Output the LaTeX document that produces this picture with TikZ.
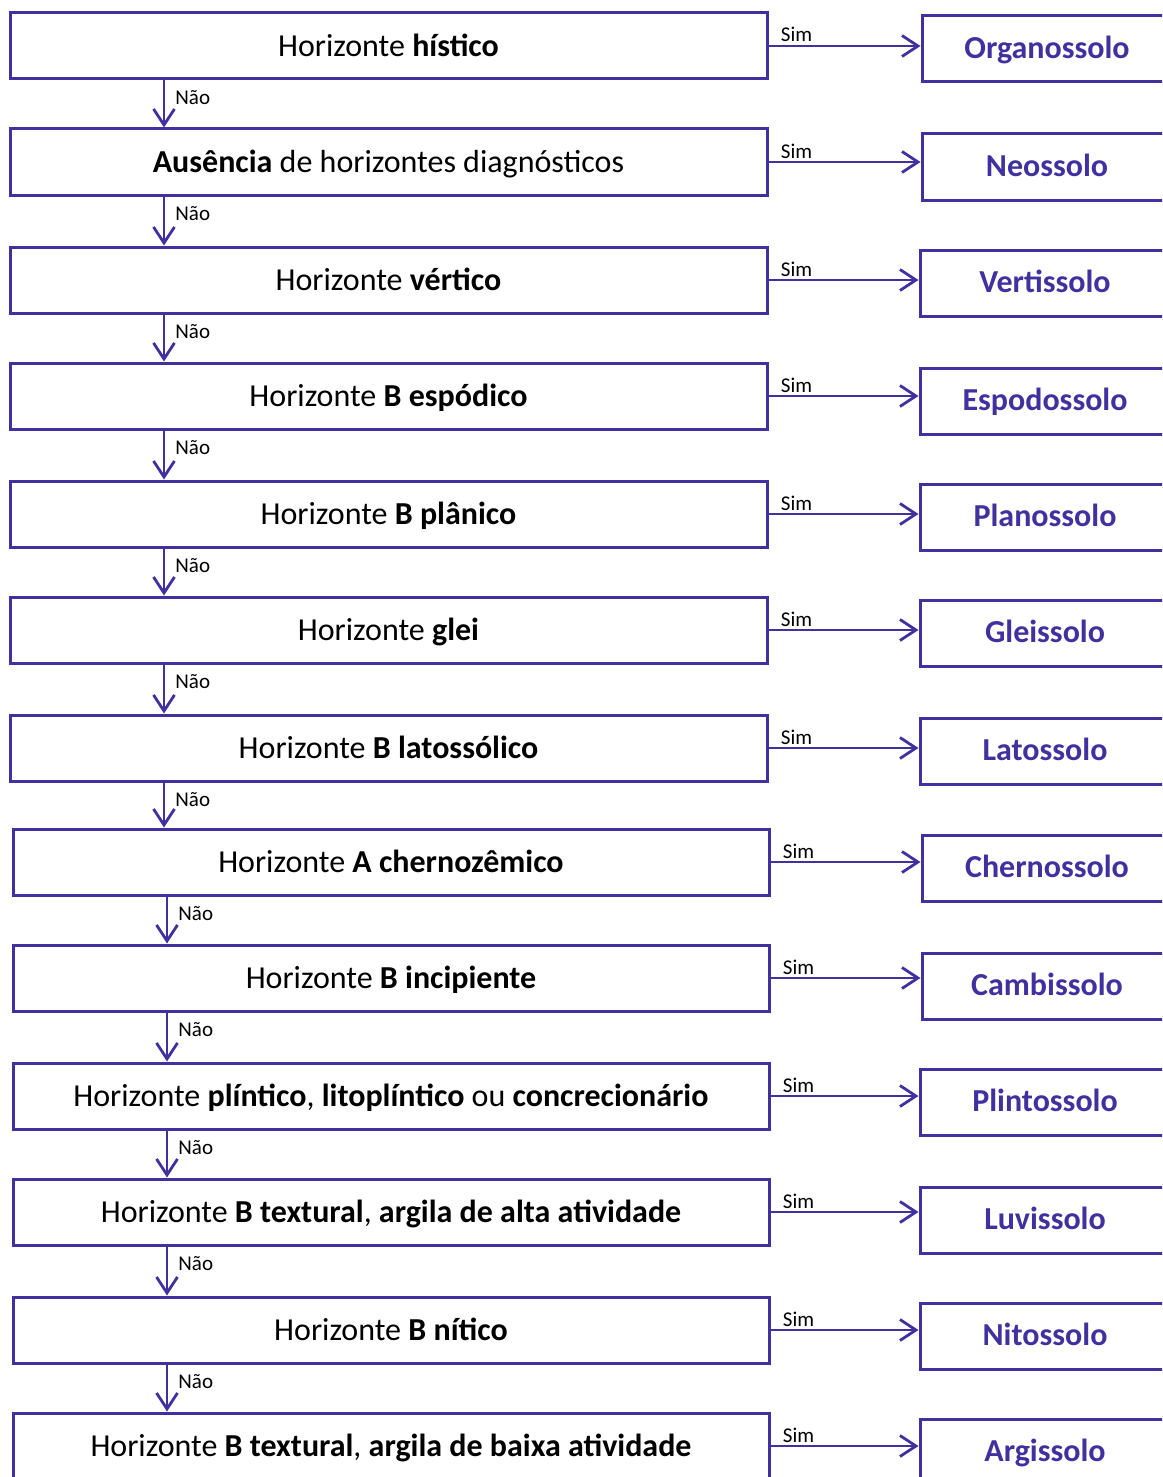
\documentclass[tikz,border=0pt]{standalone}
\usepackage{fontspec}
\setmainfont{Carlito}
\usetikzlibrary{arrows.meta}
\definecolor{pc}{RGB}{64,48,160}
\begin{document}
\begin{tikzpicture}[x=1pt,y=-1pt,
 lbox/.style={draw=pc, line width=3pt, minimum height=66pt, inner sep=0pt, text height=20.5pt, text depth=0pt, font=\fontsize{32}{37}\selectfont},
 lboxa/.style={lbox, minimum width=757pt},
 lboxb/.style={lbox, minimum width=756pt},
 rbox/.style={draw=pc, line width=3pt, minimum width=250pt, minimum height=66pt, inner sep=0pt, text height=20.5pt, text depth=1pt, font=\fontsize{32}{37}\selectfont\bfseries, text=pc},
 arr/.style={draw=pc, line width=2.8pt, -{Straight Barb[length=16pt,width=21pt]}},
 simlab/.style={font=\fontsize{21}{25}\selectfont, anchor=base west, inner sep=0pt, pos=0, xshift=11pt, yshift=4pt},
 naolab/.style={font=\fontsize{21}{25}\selectfont, anchor=base west, inner sep=0pt, pos=0, xshift=10pt, yshift=-24pt}]
\useasboundingbox (0,0) rectangle (1162,1477);
\clip (0,0) rectangle (1162,1477);
% left boxes
\node[lboxa] (L1) at (388.5,46) {Horizonte \textbf{hístico}};
\node[lboxa] (L2) at (388.5,162) {\textbf{Ausência} de horizontes diagnósticos};
\node[lboxa] (L3) at (388.5,280) {Horizonte \textbf{vértico}};
\node[lboxa] (L4) at (388.5,396) {Horizonte \textbf{B espódico}};
\node[lboxa] (L5) at (388.5,514) {Horizonte \textbf{B plânico}};
\node[lboxa] (L6) at (388.5,630) {Horizonte \textbf{glei}};
\node[lboxa] (L7) at (388.5,748) {Horizonte \textbf{B latossólico}};
\node[lboxb] (L8) at (391,862) {Horizonte \textbf{A chernozêmico}};
\node[lboxb] (L9) at (391,978) {Horizonte \textbf{B incipiente}};
\node[lboxb] (L10) at (391,1096) {Horizonte \textbf{plíntico}, \textbf{litoplíntico} ou \textbf{concrecionário}};
\node[lboxb] (L11) at (391,1212) {Horizonte \textbf{B textural}, \textbf{argila de alta atividade}};
\node[lboxb] (L12) at (391,1330) {Horizonte \textbf{B nítico}};
\node[lboxb] (L13) at (391,1446) {Horizonte \textbf{B textural}, \textbf{argila de baixa atividade}};
% right boxes
\node[rbox] (R1) at (1047,49) {Organossolo};
\node[rbox] (R2) at (1047,167) {Neossolo};
\node[rbox] (R3) at (1045,283) {Vertissolo};
\node[rbox] (R4) at (1045,401) {Espodossolo};
\node[rbox] (R5) at (1045,517) {Planossolo};
\node[rbox] (R6) at (1045,633) {Gleissolo};
\node[rbox] (R7) at (1045,751) {Latossolo};
\node[rbox] (R8) at (1047,868) {Chernossolo};
\node[rbox] (R9) at (1047,986) {Cambissolo};
\node[rbox] (R10) at (1045,1102) {Plintossolo};
\node[rbox] (R11) at (1045,1220) {Luvissolo};
\node[rbox] (R12) at (1045,1336) {Nitossolo};
\node[rbox] (R13) at (1045,1452) {Argissolo};
% Sim arrows
\foreach \i in {1,...,13}{
  \draw[arr] (L\i.east) -- node[simlab]{Sim} (L\i.east -| R\i.west);
}
% Nao arrows
\foreach \i/\j in {1/2,2/3,3/4,4/5,5/6,6/7,7/8}{
  \draw[arr] (L\i.south -| 164,0) -- node[naolab]{Não} (L\j.north -| 164,0);
}
\foreach \i/\j in {8/9,9/10,10/11,11/12,12/13}{
  \draw[arr] (L\i.south -| 167,0) -- node[naolab]{Não} (L\j.north -| 167,0);
}
\end{tikzpicture}
\end{document}
